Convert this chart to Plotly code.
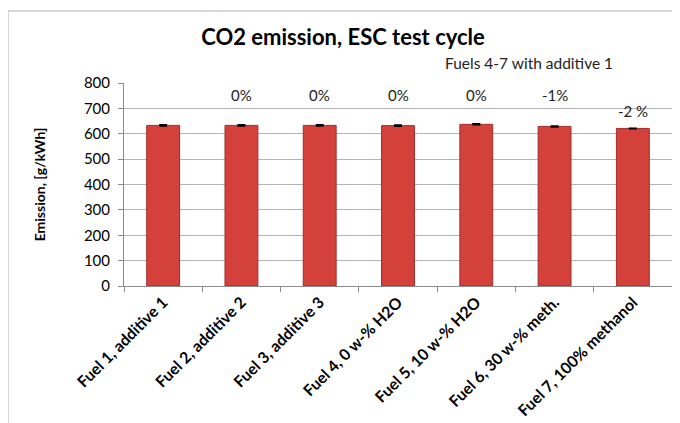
import plotly.graph_objects as go

categories = ["Fuel 1, additive 1", "Fuel 2, additive 2", "Fuel 3, additive 3",
              "Fuel 4, 0 w-% H2O", "Fuel 5, 10 w-% H2O", "Fuel 6, 30 w-% meth.",
              "Fuel 7, 100% methanol"]
co2 = [633, 633, 633, 632, 637, 629, 621]
err = [2, 2, 2, 2, 2, 2, 1]
pct_labels = ["", "0%", "0%", "0%", "0%", "-1%", "-2 %"]
pct_label_y = [None, 752, 752, 752, 752, 752, 688]
y_ticks = [0, 100, 200, 300, 400, 500, 600, 700, 800]

FONT = "Lato, 'Open Sans', sans-serif"

# page body has an 8px default margin; compensate so the plot lands where the reference has it
OFF = 8
L, T, PW, PH = 124 - OFF, 83 - OFF, 548, 203

fig = go.Figure()
fig.add_trace(go.Bar(
    x=categories, y=co2,
    marker=dict(color="#D4403A", line=dict(color="#9E2E2B", width=1)),
    error_y=dict(type="data", array=err, color="black", thickness=1.5, width=4),
    width=0.42,
    showlegend=False,
))

for c, t, yy in zip(categories, pct_labels, pct_label_y):
    if t:
        fig.add_annotation(x=c, y=yy, text=t, showarrow=False,
                           font=dict(size=15, color="#222", family=FONT),
                           xref="x", yref="y")

fig.add_annotation(x=0.582, y=1.10, xref="paper", yref="paper", xanchor="left",
                   yanchor="middle", text="Fuels 4-7 with additive 1", showarrow=False,
                   font=dict(size=15.5, color="#222", family=FONT))

# outer chart border
fig.add_shape(type="rect", xref="paper", yref="paper",
              x0=(8 - 124) / PW, x1=(679 - 124) / PW,
              y0=(286 - 440) / PH, y1=(286 - 11) / PH,
              line=dict(color="#B0B0B0", width=1), fillcolor="rgba(0,0,0,0)", layer="below")

fig.update_layout(
    width=680, height=423,
    margin=dict(l=L, r=680 - L - PW, t=T, b=423 - T - PH, autoexpand=False),
    paper_bgcolor="white", plot_bgcolor="white",
    title=dict(text="<b>CO2 emission, ESC test cycle</b>", x=(343 - OFF) / 680, xanchor="center",
               y=1 - (37 - OFF) / 423, yanchor="middle",
               font=dict(size=22, color="black", family=FONT)),
    font=dict(family=FONT, color="black"),
    xaxis=dict(
        type="category", tickangle=-45, tickson="boundaries", automargin=False,
        ticks="outside", ticklen=5, tickcolor="#8C8C8C",
        showline=True, linecolor="#8C8C8C", linewidth=1,
        tickfont=dict(size=15.8, family=FONT, color="black", weight="bold"),
        showgrid=False,
    ),
    yaxis=dict(
        range=[0, 800], tickvals=y_ticks, automargin=False,
        showgrid=True, gridcolor="#B4B4B4", gridwidth=1,
        showline=True, linecolor="#8C8C8C", linewidth=1,
        ticks="outside", ticklen=5, tickcolor="#8C8C8C", ticklabelstandoff=5,
        tickfont=dict(size=15, family=FONT, color="black"),
        title=dict(text="<b>Emission, [g/kWh]</b>", font=dict(size=14, family=FONT), standoff=34),
        zeroline=False,
    ),
)

fig.write_html("out.html")
